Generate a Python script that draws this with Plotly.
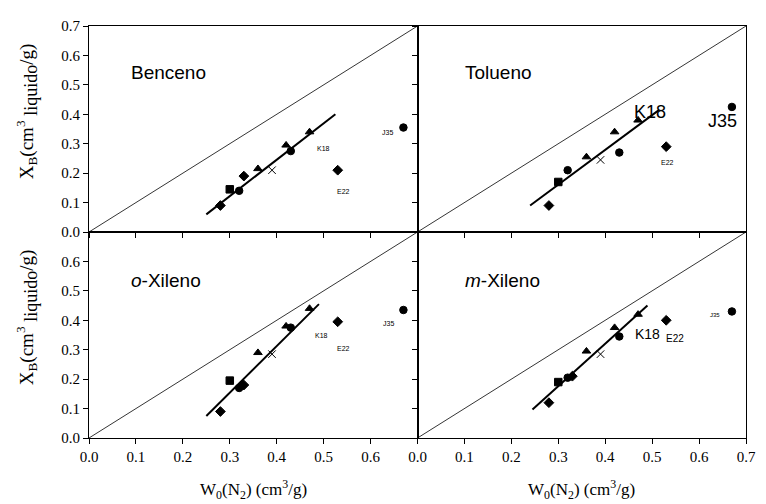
import plotly.graph_objects as go
from plotly.subplots import make_subplots

# ---- data ----
w0 = [0.28, 0.30, 0.32, 0.33, 0.36, 0.39, 0.42, 0.43, 0.47, 0.53, 0.67]
symbols = ["diamond", "square", "circle", "diamond", "triangle-up", "x-thin",
           "triangle-up", "circle", "triangle-up", "diamond", "circle"]

xb_benceno = [0.09, 0.145, 0.14, 0.19, 0.215, 0.21, 0.295, 0.275, 0.34, 0.21, 0.355]
xb_tolueno = [0.09, 0.17, 0.21, None, 0.255, 0.245, 0.34, 0.27, 0.38, 0.29, 0.425]
xb_oxileno = [0.09, 0.195, 0.17, 0.18, 0.29, 0.285, 0.38, 0.375, 0.44, 0.395, 0.435]
xb_mxileno = [0.12, 0.19, 0.205, 0.21, 0.295, 0.285, 0.375, 0.345, 0.42, 0.40, 0.43]

fit_benceno = ([0.25, 0.525], [0.06, 0.40])
fit_tolueno = ([0.24, 0.515], [0.09, 0.415])
fit_oxileno = ([0.25, 0.49], [0.075, 0.455])
fit_mxileno = ([0.245, 0.49], [0.097, 0.45])

diag = [0.0, 0.7]
tick_vals = [0.0, 0.1, 0.2, 0.3, 0.4, 0.5, 0.6, 0.7]
tick_text = ["0.0", "0.1", "0.2", "0.3", "0.4", "0.5", "0.6", "0.7"]
tick_text_no_top = ["0.0", "0.1", "0.2", "0.3", "0.4", "0.5", "0.6", ""]

panel_names = ["Benceno", "Tolueno", "<i>o</i>-Xileno", "<i>m</i>-Xileno"]
panel_name_pos = [(0.085, 0.543), (0.096, 0.543), (0.086, 0.535), (0.096, 0.535)]

# sample labels: (text, x, y, font size)
labels_benceno = [("K18", 0.50, 0.284, 7), ("E22", 0.543, 0.139, 7), ("J35", 0.636, 0.338, 7)]
labels_tolueno = [("K18", 0.496, 0.407, 18), ("E22", 0.532, 0.235, 7), ("J35", 0.649, 0.376, 18)]
labels_oxileno = [("K18", 0.496, 0.35, 7), ("E22", 0.543, 0.303, 7), ("J35", 0.638, 0.389, 7)]
labels_mxileno = [("K18", 0.491, 0.355, 14), ("E22", 0.549, 0.339, 10), ("J35", 0.633, 0.419, 6)]

panels = [
    (1, 1, xb_benceno, fit_benceno, labels_benceno),
    (1, 2, xb_tolueno, fit_tolueno, labels_tolueno),
    (2, 1, xb_oxileno, fit_oxileno, labels_oxileno),
    (2, 2, xb_mxileno, fit_mxileno, labels_mxileno),
]

fig = make_subplots(rows=2, cols=2, horizontal_spacing=0, vertical_spacing=0)

serif = "Liberation Serif"
sans = "Liberation Sans"

for i, (r, c, yb, fit, labs) in enumerate(panels):
    fig.add_trace(go.Scatter(x=diag, y=diag, mode="lines",
                             line=dict(color="black", width=0.8),
                             showlegend=False, hoverinfo="skip"), row=r, col=c)
    fig.add_trace(go.Scatter(x=w0, y=yb, mode="markers",
                             marker=dict(symbol=symbols, size=7.5, color="black",
                                         line=dict(color="black", width=1)),
                             showlegend=False), row=r, col=c)
    fig.add_trace(go.Scatter(x=fit[0], y=fit[1], mode="lines",
                             line=dict(color="black", width=2),
                             showlegend=False, hoverinfo="skip"), row=r, col=c)
    k = i + 1
    xref = "x" if k == 1 else f"x{k}"
    yref = "y" if k == 1 else f"y{k}"
    nx, ny = panel_name_pos[i]
    fig.add_annotation(x=nx, y=ny, xref=xref, yref=yref, text=panel_names[i],
                       showarrow=False, xanchor="left", yanchor="middle",
                       font=dict(family=sans, size=19, color="black"))
    for t, lx, ly, fs in labs:
        fig.add_annotation(x=lx, y=ly, xref=xref, yref=yref, text=t,
                           showarrow=False, xanchor="center", yanchor="middle",
                           font=dict(family=sans, size=fs, color="black"))

axis_common = dict(range=[0, 0.7], showline=True, linecolor="black", linewidth=1,
                   mirror=True, ticks="outside", ticklen=5, tickcolor="black",
                   tickwidth=1,
                   showgrid=False, zeroline=False, tickvals=tick_vals,
                   tickfont=dict(family=serif, size=15, color="black"))

for r in (1, 2):
    for c in (1, 2):
        xa = dict(axis_common)
        ya = dict(axis_common)
        if r == 1:
            xa["showticklabels"] = False
        else:
            xa["ticktext"] = tick_text_no_top if c == 1 else tick_text
        if c == 2:
            ya["showticklabels"] = False
        else:
            ya["ticktext"] = tick_text if r == 1 else tick_text_no_top
        fig.update_xaxes(row=r, col=c, **xa)
        fig.update_yaxes(row=r, col=c, **ya)

ytitle = ("X<sub>B</sub>(cm<sup>3</sup> "
          "<sub><span style='font-size:18px'>liquido</span></sub>/g)")
xtitle = "W<sub>0</sub>(N<sub>2</sub>) (cm<sup>3</sup>/g)"

for yc in (0.792, 0.292):
    fig.add_annotation(x=-0.095, y=yc, xref="paper", yref="paper", text=ytitle,
                       textangle=-90, showarrow=False, xanchor="center", yanchor="middle",
                       font=dict(family=serif, size=19, color="black"))
for xc in (0.25, 0.75):
    fig.add_annotation(x=xc, y=-0.124, xref="paper", yref="paper", text=xtitle,
                       showarrow=False, xanchor="center", yanchor="middle",
                       font=dict(family=serif, size=17, color="black"))

# the page body adds an 8px offset, so the canvas is 8px smaller on each side
fig.update_layout(width=758, height=496, margin=dict(l=81, r=10, t=12, b=66),
                  paper_bgcolor="white", plot_bgcolor="white",
                  font=dict(family=serif))

fig.write_html("out.html")
